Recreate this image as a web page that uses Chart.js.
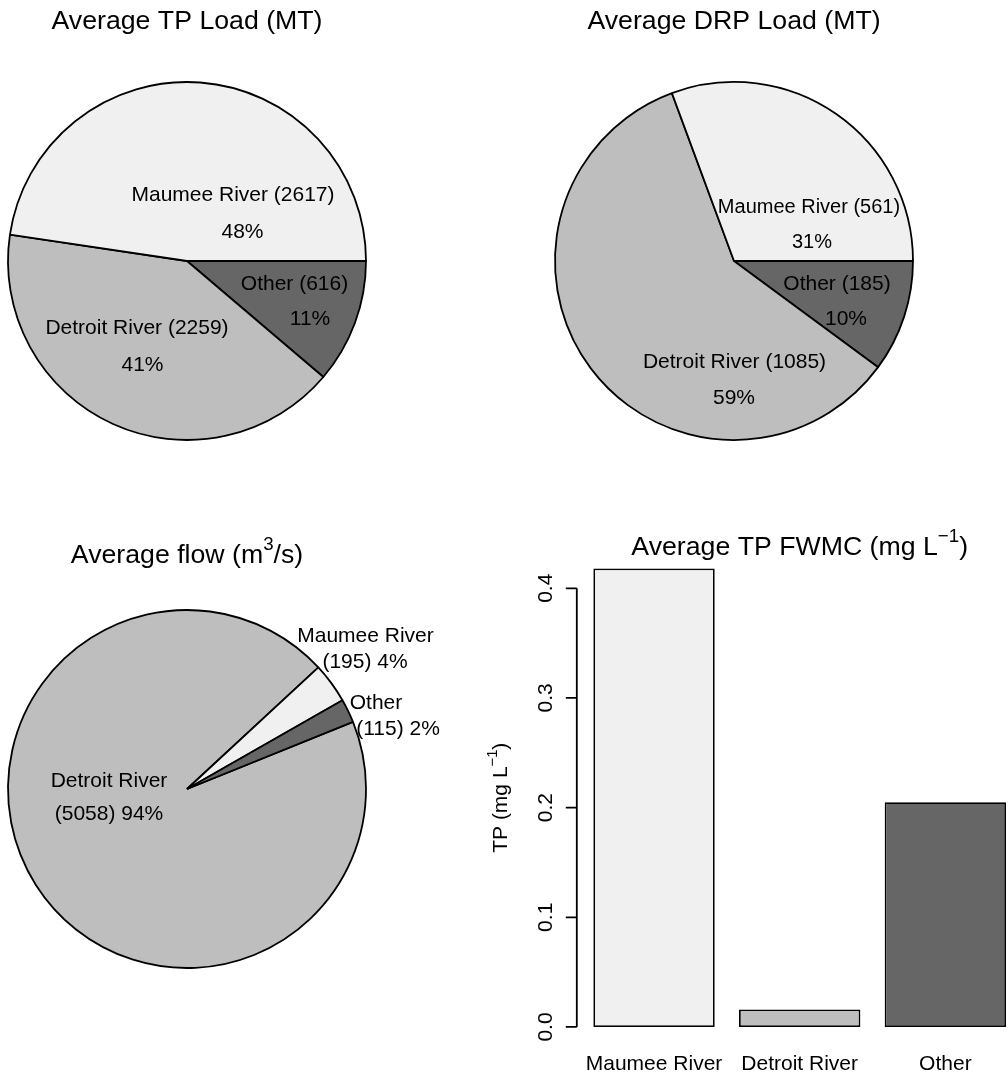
<!DOCTYPE html>
<html>
<head>
<meta charset="utf-8">
<title>Lake Erie phosphorus sources</title>
<script src="https://cdn.jsdelivr.net/npm/chart.js@4.4.1/dist/chart.umd.min.js"></script>
<style>
  html, body { margin: 0; padding: 0; background: #ffffff; width: 1008px; height: 1076px; overflow: hidden; }
  canvas { position: absolute; left: 0; top: 0; }
</style>
</head>
<body>
<canvas id="tpPie" width="1030" height="1076"></canvas>
<canvas id="drpPie" width="1030" height="1076"></canvas>
<canvas id="flowPie" width="1030" height="1076"></canvas>
<canvas id="fwmcBar" width="1030" height="1076"></canvas>
<script>
// ---- data ----
const sources = ['Maumee River', 'Detroit River', 'Other'];
const tpLoad = [2617, 2259, 616];      // MT
const drpLoad = [561, 1085, 185];      // MT
const flowRate = [195, 5058, 115];     // m3/s
const tpFwmc = [0.418, 0.016, 0.205];  // mg/L
const fwmcTicks = [0, 0.1, 0.2, 0.3, 0.4];
const shades = ['#F0F0F0', '#BEBEBE', '#666666'];

// ---- helpers ----
const W = 1030, H = 1076;
const FONT = '"Liberation Sans", Arial, Helvetica, sans-serif';
const LABEL_SIZE = 21;
const TITLE_SIZE = 26.7;
const LINE_W = 1.8;

function pct(values, i) {
  const total = values.reduce((a, b) => a + b, 0);
  return Math.round(values[i] / total * 100) + '%';
}

// text made of pieces, some raised as superscripts, centred on (x, y)
function drawRich(ctx, parts, x, y, size, angle) {
  ctx.save();
  ctx.translate(x, y);
  if (angle) ctx.rotate(angle);
  ctx.textAlign = 'left';
  ctx.textBaseline = 'alphabetic';
  ctx.fillStyle = '#000';
  const widths = parts.map(p => {
    ctx.font = `${p.sup ? size * 0.7 : size}px ${FONT}`;
    return ctx.measureText(p.t).width;
  });
  let cx = -widths.reduce((a, b) => a + b, 0) / 2;
  parts.forEach((p, i) => {
    ctx.font = `${p.sup ? size * 0.7 : size}px ${FONT}`;
    ctx.fillText(p.t, cx, p.sup ? -size * 0.47 : 0);
    cx += widths[i];
  });
  ctx.restore();
}

// pie drawn clockwise from `rotation`, slices taken from `values` in `order`
function makePie(id, values, order, rotation, center, radius, labels, title, titleY) {
  const plugin = {
    id: 'pieText_' + id,
    afterDatasetsDraw(chart) {
      const arc = chart.getDatasetMeta(0).data[0];
      const ctx = chart.ctx;
      ctx.save();
      ctx.fillStyle = '#000';
      ctx.textAlign = 'center';
      ctx.textBaseline = 'alphabetic';
      labels.forEach(l => {
        ctx.font = `${l.size || LABEL_SIZE}px ${FONT}`;
        ctx.fillText(l.text, arc.x + l.dx, arc.y + l.dy);
      });
      ctx.restore();
      drawRich(ctx, title, arc.x, titleY, TITLE_SIZE, 0);
    }
  };
  return new Chart(document.getElementById(id), {
    type: 'pie',
    data: {
      labels: order.map(i => sources[i]),
      datasets: [{
        data: order.map(i => values[i]),
        backgroundColor: order.map(i => shades[i]),
        borderColor: '#000000',
        borderWidth: LINE_W,
        clip: false
      }]
    },
    options: {
      responsive: false,
      animation: false,
      events: [],
      rotation: rotation,
      radius: radius,
      layout: {
        padding: {
          left: center[0] - radius,
          right: W - center[0] - radius,
          top: center[1] - radius,
          bottom: H - center[1] - radius
        }
      },
      plugins: { legend: { display: false }, tooltip: { enabled: false } }
    },
    plugins: [plugin]
  });
}

// ---- Average TP load ----
makePie('tpPie', tpLoad, [2, 1, 0], 90, [187, 261], 179, [
  { text: `${sources[0]} (${tpLoad[0]})`, dx: 46, dy: -60 },
  { text: pct(tpLoad, 0), dx: 55.5, dy: -23.5 },
  { text: `${sources[2]} (${tpLoad[2]})`, dx: 107.5, dy: 29 },
  { text: pct(tpLoad, 2), dx: 123, dy: 64 },
  { text: `${sources[1]} (${tpLoad[1]})`, dx: -50, dy: 73 },
  { text: pct(tpLoad, 1), dx: -44.5, dy: 109.5 }
], [{ t: 'Average TP Load (MT)' }], 28.5);

// ---- Average DRP load ----
makePie('drpPie', drpLoad, [2, 1, 0], 90, [734, 261], 179, [
  { text: `${sources[0]} (${drpLoad[0]})`, dx: 75, dy: -48, size: 20 },
  { text: pct(drpLoad, 0), dx: 78, dy: -13, size: 20 },
  { text: `${sources[2]} (${drpLoad[2]})`, dx: 103, dy: 29 },
  { text: pct(drpLoad, 2), dx: 112, dy: 64 },
  { text: `${sources[1]} (${drpLoad[1]})`, dx: 0.5, dy: 107 },
  { text: pct(drpLoad, 1), dx: 0, dy: 142.5 }
], [{ t: 'Average DRP Load (MT)' }], 28.5);

// ---- Average flow ----
makePie('flowPie', flowRate, [1, 0, 2], 68, [187, 789], 179, [
  { text: sources[0], dx: 178.5, dy: -147 },
  { text: `(${flowRate[0]}) ${pct(flowRate, 0)}`, dx: 178, dy: -120.7 },
  { text: sources[2], dx: 189, dy: -80.3 },
  { text: `(${flowRate[2]}) ${pct(flowRate, 2)}`, dx: 211, dy: -54 },
  { text: sources[1], dx: -78, dy: -1.7 },
  { text: `(${flowRate[1]}) ${pct(flowRate, 1)}`, dx: -78, dy: 31 }
], [{ t: 'Average flow (m' }, { t: '3', sup: true }, { t: '/s)' }], 563);

// ---- Average TP FWMC bars ----
const fwmcTop = Math.max(...tpFwmc);
const yPad = fwmcTop * 0.04;

const barAxis = {
  id: 'barAxis',
  afterDatasetsDraw(chart) {
    const ctx = chart.ctx, xs = chart.scales.x, ys = chart.scales.y, area = chart.chartArea;
    const axX = area.left - 4.4;
    ctx.save();
    ctx.strokeStyle = '#000';
    ctx.lineWidth = LINE_W;
    ctx.beginPath();
    ctx.moveTo(axX, ys.getPixelForValue(fwmcTicks[0]));
    ctx.lineTo(axX, ys.getPixelForValue(fwmcTicks[fwmcTicks.length - 1]));
    fwmcTicks.forEach(v => {
      const py = ys.getPixelForValue(v);
      ctx.moveTo(axX, py);
      ctx.lineTo(axX - 11, py);
    });
    ctx.stroke();

    ctx.fillStyle = '#000';
    ctx.font = `${LABEL_SIZE}px ${FONT}`;
    ctx.textAlign = 'center';
    ctx.textBaseline = 'alphabetic';
    fwmcTicks.forEach(v => {
      ctx.save();
      ctx.translate(axX - 25, ys.getPixelForValue(v));
      ctx.rotate(-Math.PI / 2);
      ctx.fillText(v.toFixed(1), 0, 0);
      ctx.restore();
    });
    sources.forEach((s, i) => ctx.fillText(s, xs.getPixelForValue(i), 1070));
    ctx.restore();

    drawRich(ctx, [{ t: 'TP (mg L' }, { t: '\u22121', sup: true }, { t: ')' }],
      axX - 70, (area.top + area.bottom) / 2, LABEL_SIZE, -Math.PI / 2);
    drawRich(ctx, [{ t: 'Average TP FWMC (mg L' }, { t: '\u22121', sup: true }, { t: ')' }],
      (axX + area.right + 4.4) / 2, 555, TITLE_SIZE, 0);
  }
};

new Chart(document.getElementById('fwmcBar'), {
  type: 'bar',
  data: {
    labels: sources,
    datasets: [{
      data: tpFwmc,
      backgroundColor: shades,
      borderColor: '#000000',
      borderWidth: LINE_W,
      borderSkipped: false,
      categoryPercentage: 1,
      barPercentage: 1 / 1.2
    }]
  },
  options: {
    responsive: false,
    animation: false,
    events: [],
    layout: { padding: { left: 581.2, right: W - 1018.2, top: 550.2, bottom: H - 1045.3 } },
    scales: {
      x: { display: false },
      y: { display: false, min: -yPad, max: fwmcTop + yPad }
    },
    plugins: { legend: { display: false }, tooltip: { enabled: false } }
  },
  plugins: [barAxis]
});
</script>
</body>
</html>
